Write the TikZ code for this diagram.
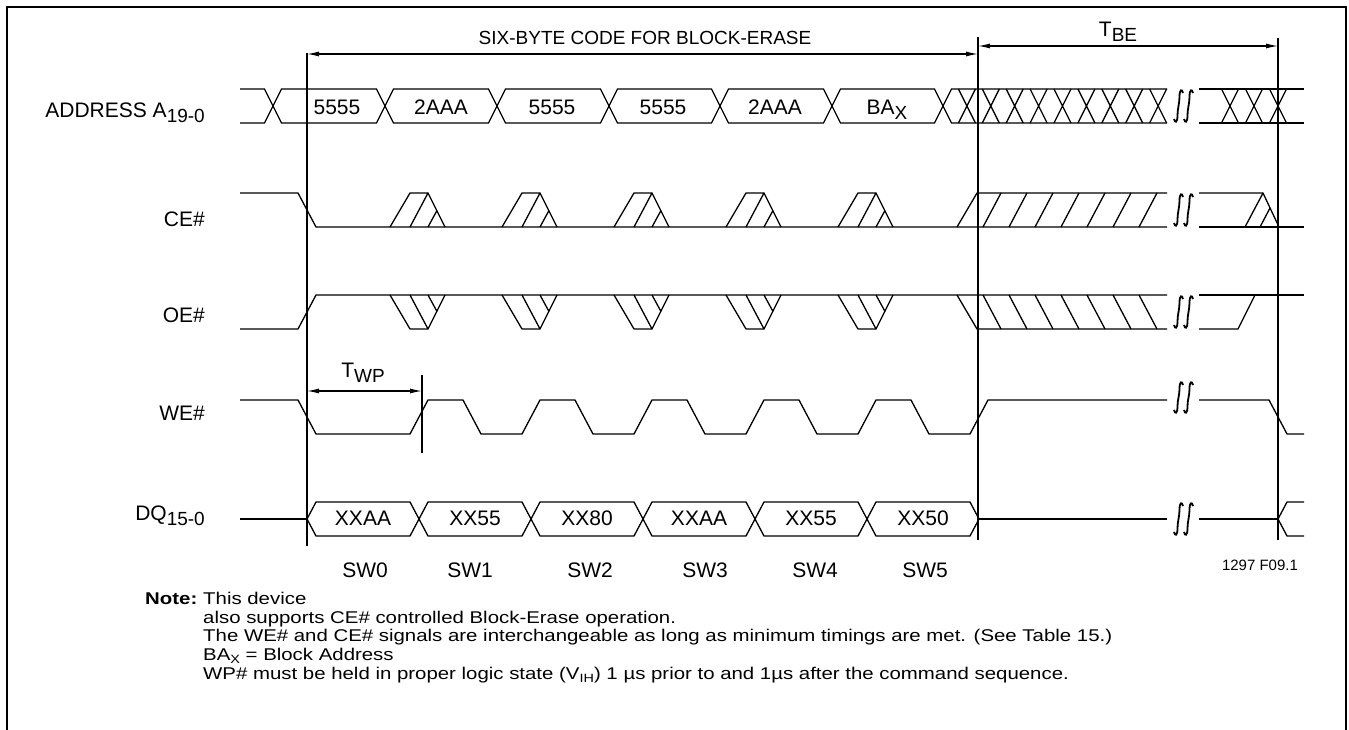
\documentclass[tikz,border=0pt]{standalone}
\usepackage{fontspec}
\setmainfont{Liberation Sans}
\newfontfamily\notefont[FakeStretch=1.2]{Liberation Sans}
\usetikzlibrary{arrows.meta}
\newcommand\sbs[1]{\raisebox{-5pt}{\fontsize{19}{19}\selectfont #1}}
\newcommand\nsb[1]{\raisebox{-3pt}{\fontsize{12}{12}\selectfont #1}}
\begin{document}
\begin{tikzpicture}[x=1pt,y=-1pt,line join=miter,
  sig/.style={line width=1.3pt},
  frm/.style={line width=2pt},
  mrk/.style={line width=1.3pt},
  brkline/.style={line width=1.8pt},
  dim/.style={line width=1.2pt,{Latex[length=12pt,width=5pt]}-{Latex[length=12pt,width=5pt]}},
  lbl/.style={anchor=base east,inner sep=0pt},
  val/.style={anchor=base,inner sep=0pt},
  note/.style={anchor=base west,inner sep=0pt,font=\notefont\fontsize{17}{19}\selectfont},
  font=\fontsize{21}{24}\selectfont]
\useasboundingbox (0,0) rectangle (1349,730);
% frame
\draw[frm] (7,730) -- (7,7) -- (1346,7) -- (1346,730);

% signal names
\node[lbl] (lA) at (205,118) {ADDRESS A\sbs{19-0}};
\node[lbl] (lCE) at (205,226) {CE\#};
\node[lbl] (lOE) at (205,322) {OE\#};
\node[lbl] (lWE) at (205,420) {WE\#};
\node[lbl] (lDQ) at (205,520) {DQ\sbs{15-0}};

% marker lines
\coordinate (m1t) at (307,53);  \coordinate (m1b) at (307,546);
\coordinate (m2t) at (978,37);  \coordinate (m2b) at (978,540);
\coordinate (m3t) at (1278,38); \coordinate (m3b) at (1278,540);
\coordinate (m4t) at (422,375); \coordinate (m4b) at (422,453);
\draw[mrk] (m1t) -- (m1b);
\draw[mrk] (m2t) -- (m2b);
\draw[mrk] (m3t) -- (m3b);
\draw[mrk] (m4t) -- (m4b);

% dimension arrows
\coordinate (a1l) at (307,54); \coordinate (a1r) at (978,54);
\coordinate (a2l) at (978,46); \coordinate (a2r) at (1278,46);
\coordinate (a3l) at (307,391); \coordinate (a3r) at (422,391);
\draw[dim] (a1l) -- (a1r);
\draw[dim] (a2l) -- (a2r);
\draw[dim] (a3l) -- (a3r);
\node[val,font=\fontsize{19}{22}\selectfont] (tsix) at (645,45) {SIX-BYTE CODE FOR BLOCK-ERASE};
\node[val] (tbe) at (1118,37) {T\sbs{BE}};
\node[val] (twp) at (363,377) {T\sbs{WP}};

% ---------- ADDRESS ----------
\draw[sig] (240,89) -- (264.5,89) -- (273,106) -- (264.5,123) -- (240,123);
\foreach \a/\b in {273/385,385/497,497/609,609/720,720/832,832/943}
  \draw[sig] (\a,106) -- (\a+8.5,89) -- (\b-8.5,89) -- (\b,106) -- (\b-8.5,123) -- (\a+8.5,123) -- cycle;
\draw[sig] (1167,89) -- (951.5,89) -- (943,106) -- (951.5,123) -- (1167,123);
\foreach \k in {1,...,9}{
  \pgfmathsetmacro\c{943+23.9*\k}
  \draw[sig] (\c-8.5,89) -- (\c+8.5,123) (\c-8.5,123) -- (\c+8.5,89);
}
\draw[sig] (1199,89) -- (1304,89) (1199,123) -- (1304,123);
\foreach \c in {1230,1254,1278}
  \draw[sig] (\c-8.5,89) -- (\c+8.5,123) (\c-8.5,123) -- (\c+8.5,89);
\node[val] (v1) at (337,115) {5555};
\node[val] (v2) at (441,115) {2AAA};
\node[val] (v3) at (552,115) {5555};
\node[val] (v4) at (663,115) {5555};
\node[val] (v5) at (775,115) {2AAA};
\node[val] (v6) at (887,115) {BA\sbs{X}};

% ---------- CE# ----------
\draw[sig] (240,193) -- (298,193) -- (316,227) -- (1167,227);
\foreach \p in {390,502,614,726,838}{
  \draw[sig] (\p,227) -- (\p+20,193) -- (\p+38,193) -- (\p+55,227);
  \draw[sig] (\p+20,227) -- (\p+38,193);
  \draw[sig] (\p+38,227) -- (\p+47,210.5);
}
\draw[sig] (957,227) -- (977,193) -- (1167,193);
\foreach \k in {0,...,6}
  \draw[sig] (983+26*\k,227) -- (1001+26*\k,193);
\draw[sig] (1199,193) -- (1263,193) -- (1279,227);
\draw[sig] (1199,227) -- (1304,227);
\draw[sig] (1245,227) -- (1263,193);
\draw[sig] (1260,227) -- (1270,208);

% ---------- OE# ----------
\draw[sig] (240,329) -- (298,329) -- (316,295) -- (1167,295);
\foreach \p in {390,502,614,726,838}{
  \draw[sig] (\p,295) -- (\p+20,329) -- (\p+38,329) -- (\p+55,295);
  \draw[sig] (\p+20,295) -- (\p+38,329);
  \draw[sig] (\p+38,295) -- (\p+47,311.5);
}
\draw[sig] (957,295) -- (977,329) -- (1167,329);
\foreach \k in {0,...,6}
  \draw[sig] (983+26*\k,295) -- (1001+26*\k,329);
\draw[sig] (1199,295) -- (1304,295);
\draw[sig] (1199,329) -- (1238,329) -- (1255,295);

% ---------- WE# ----------
\draw[sig] (240,400) -- (298,400) -- (316,434) -- (410,434) -- (428,400)
  -- (463,400) -- (481,434) -- (522,434) -- (540,400)
  -- (575,400) -- (593,434) -- (634,434) -- (652,400)
  -- (687,400) -- (705,434) -- (746,434) -- (764,400)
  -- (799,400) -- (817,434) -- (858,434) -- (876,400)
  -- (911,400) -- (929,434) -- (970,434) -- (988,400) -- (1167,400);
\draw[sig] (1199,400) -- (1269,400) -- (1287,434) -- (1304,434);

% ---------- DQ ----------
\draw[sig] (240,519) -- (307,519);
\foreach \a/\b in {307/419,419/531,531/643,643/755,755/867,867/979}
  \draw[sig] (\a,519) -- (\a+9,502) -- (\b-9,502) -- (\b,519) -- (\b-9,536) -- (\a+9,536) -- cycle;
\draw[sig] (979,519) -- (1167,519);
\draw[sig] (1199,519) -- (1278,519);
\draw[sig] (1304,502) -- (1287,502) -- (1278,519) -- (1287,536) -- (1304,536);
\node[val] (d1) at (363,525) {XXAA};
\node[val] (d2) at (475,525) {XX55};
\node[val] (d3) at (587,525) {XX80};
\node[val] (d4) at (699,525) {XXAA};
\node[val] (d5) at (811,525) {XX55};
\node[val] (d6) at (923,525) {XX50};

% ---------- break symbols ----------
\foreach \t/\b in {89/123,193/227,295/329,381/414,502/536}{
  \foreach \x in {1178.5,1188.5}{
    \draw[brkline] (\x+4.5,\t+4) .. controls (\x+3.5,\t-0.5) and (\x+1,\t) .. (\x+1,\t+8)
      .. controls (\x+1,\t+14) and (\x-1,\b-14) .. (\x-1,\b-8)
      .. controls (\x-1,\b) and (\x-3.5,\b+0.5) .. (\x-4.5,\b-4);
  }
}

% ---------- step labels ----------
\node[val] (s0) at (365,577) {SW0};
\node[val] (s1) at (470,577) {SW1};
\node[val] (s2) at (590,577) {SW2};
\node[val] (s3) at (705,577) {SW3};
\node[val] (s4) at (815,577) {SW4};
\node[val] (s5) at (925,577) {SW5};
\node[val,font=\fontsize{15}{18}\selectfont] (fig) at (1260,570) {1297 F09.1};

% ---------- notes ----------
\node[note] (n0) at (145,604) {\textbf{Note:}};
\node[note] (n1) at (203,604) {This device};
\node[note] (n2) at (203,623) {also supports CE\# controlled Block-Erase operation.};
\node[note] (n3) at (203,641.5) {The WE\# and CE\# signals are interchangeable as long as minimum timings are met. (See Table 15.)};
\node[note] (n4) at (203,660) {BA\nsb{X} = Block Address};
\node[note] (n5) at (203,679) {WP\# must be held in proper logic state (V\nsb{IH}) 1 µs prior to and 1µs after the command sequence.};
\end{tikzpicture}
\end{document}
